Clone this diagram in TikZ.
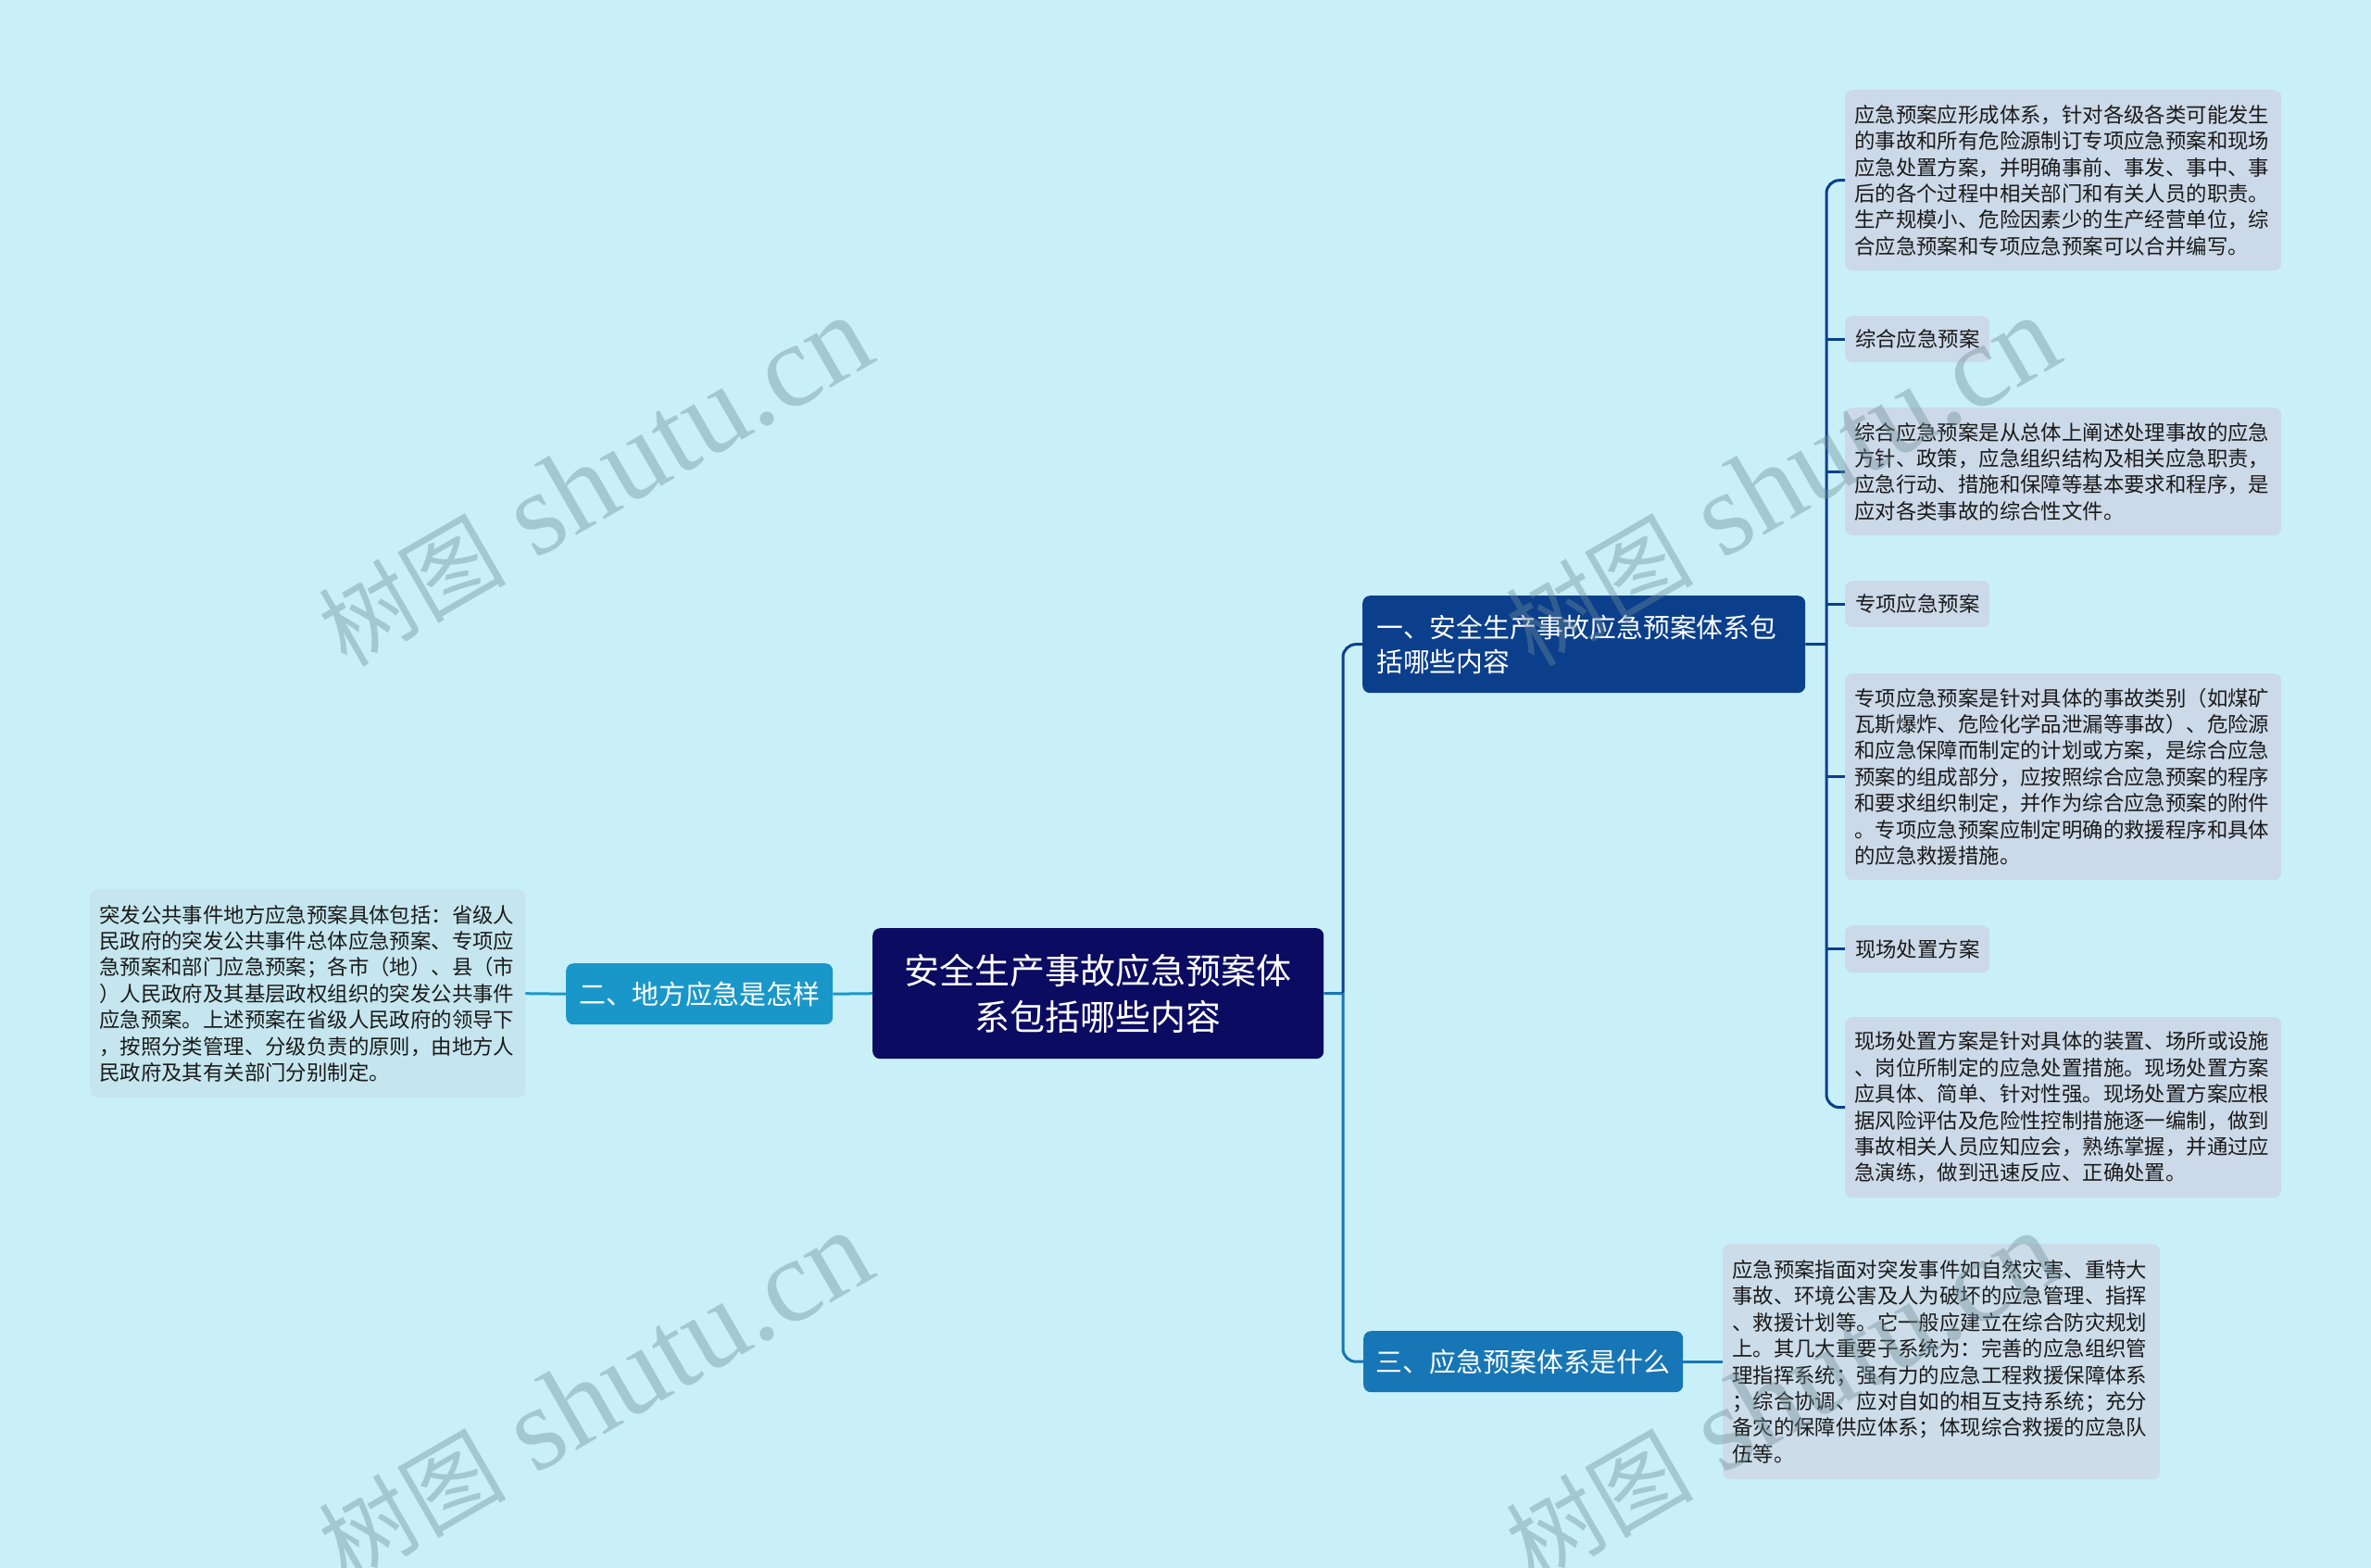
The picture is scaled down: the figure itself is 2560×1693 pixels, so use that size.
\documentclass[tikz,border=0pt]{standalone}
\usepackage{fontspec}
\setmainfont{Noto Sans CJK SC}
\newfontfamily\wmlatin{Liberation Serif}
\newfontfamily\wmcjk{Noto Sans CJK SC}
\definecolor{bgc}{HTML}{C9F0F8}
\definecolor{rootc}{HTML}{0B0B62}
\definecolor{bonec}{HTML}{0B3F8C}
\definecolor{btwoc}{HTML}{1A97C9}
\definecolor{bthreec}{HTML}{1776B5}
\definecolor{leafc}{HTML}{CCD9E8}
\definecolor{leaftwoc}{HTML}{C5E6EF}
\definecolor{leafthreec}{HTML}{CCDCE9}
\definecolor{txtc}{HTML}{1A1A1A}
\definecolor{wmc}{HTML}{6E8C96}
\newcommand{\wmtext}{{\wmcjk\fontsize{101}{101}\selectfont 树图}{\wmlatin\fontsize{128}{128}\selectfont{} shutu.cn}}
\tikzset{
  box/.style={draw=none, rounded corners=8pt, anchor=north west, inner ysep=0pt},
  leafbox/.style={box, fill=leafc, text=txtc, inner xsep=10pt, text width=451pt, minimum width=471pt, align=left,
    font=\fontsize{22.4}{28.4}\selectfont},
  shortleaf/.style={box, fill=leafc, text=txtc, inner xsep=10pt, minimum width=156pt, minimum height=50pt,
    font=\fontsize{22.4}{28.4}\selectfont},
  rootbox/.style={box, fill=rootc, text=white, inner xsep=23.5pt, text width=440pt, align=center,
    minimum width=487pt, minimum height=141pt, font=\fontsize{38}{50}\selectfont},
  branchbox/.style={box, text=white, minimum height=66pt, font=\fontsize{28.9}{37}\selectfont},
  conn/.style={line width=3pt},
  wm/.style={text=wmc, text opacity=0.4, rotate=30, inner sep=0pt},
}
\begin{document}
\begin{tikzpicture}[x=1pt,y=-1pt]
\useasboundingbox (0,0) rectangle (2560,1693);
\fill[bgc] (0,0) rectangle (2560,1693);

% root
\node[rootbox] (C) at (942,1002) {安全生产事故应急预案体\\系包括哪些内容};

% branches
\node[branchbox, fill=bonec, inner xsep=15pt, text width=448pt, align=left, minimum width=478pt, minimum height=105pt,
  font=\fontsize{28.8}{37}\selectfont] (B1) at (1471,643) {一、安全生产事故应急预案体系包\\括哪些内容};
\node[branchbox, fill=btwoc, minimum width=288pt] (B2) at (611,1040) {二、地方应急是怎样};
\node[branchbox, fill=bthreec, minimum width=345pt] (B3) at (1472,1437) {三、应急预案体系是什么};

% leaves of branch 1
\node[leafbox, minimum height=195pt] (L1) at (1992,97) {应急预案应形成体系，针对各级各类可能发生\\的事故和所有危险源制订专项应急预案和现场\\应急处置方案，并明确事前、事发、事中、事\\后的各个过程中相关部门和有关人员的职责。\\生产规模小、危险因素少的生产经营单位，综\\合应急预案和专项应急预案可以合并编写。};
\node[shortleaf] (L2) at (1992,341) {综合应急预案};
\node[leafbox, minimum height=138pt] (L3) at (1992,440) {综合应急预案是从总体上阐述处理事故的应急\\方针、政策，应急组织结构及相关应急职责，\\应急行动、措施和保障等基本要求和程序，是\\应对各类事故的综合性文件。};
\node[shortleaf] (L4) at (1992,627) {专项应急预案};
\node[leafbox, minimum height=223pt] (L5) at (1992,727) {专项应急预案是针对具体的事故类别（如煤矿\\瓦斯爆炸、危险化学品泄漏等事故）、危险源\\和应急保障而制定的计划或方案，是综合应急\\预案的组成部分，应按照综合应急预案的程序\\和要求组织制定，并作为综合应急预案的附件\\。专项应急预案应制定明确的救援程序和具体\\的应急救援措施。};
\node[shortleaf, minimum height=51pt] (L6) at (1992,999) {现场处置方案};
\node[leafbox, minimum height=195pt] (L7) at (1992,1098) {现场处置方案是针对具体的装置、场所或设施\\、岗位所制定的应急处置措施。现场处置方案\\应具体、简单、针对性强。现场处置方案应根\\据风险评估及危险性控制措施逐一编制，做到\\事故相关人员应知应会，熟练掌握，并通过应\\急演练，做到迅速反应、正确处置。};

% leaf of branch 2
\node[leafbox, fill=leaftwoc, minimum height=225pt, minimum width=470pt, text width=450pt] (M1) at (97,960) {突发公共事件地方应急预案具体包括：省级人\\民政府的突发公共事件总体应急预案、专项应\\急预案和部门应急预案；各市（地）、县（市\\）人民政府及其基层政权组织的突发公共事件\\应急预案。上述预案在省级人民政府的领导下\\，按照分类管理、分级负责的原则，由地方人\\民政府及其有关部门分别制定。};

% leaf of branch 3
\node[leafbox, fill=leafthreec, minimum height=254pt, minimum width=472pt, text width=452pt] (N1) at (1860,1343) {应急预案指面对突发事件如自然灾害、重特大\\事故、环境公害及人为破坏的应急管理、指挥\\、救援计划等。它一般应建立在综合防灾规划\\上。其几大重要子系统为：完善的应急组织管\\理指挥系统；强有力的应急工程救援保障体系\\；综合协调、应对自如的相互支持系统；充分\\备灾的保障供应体系；体现综合救援的应急队\\伍等。};

% connectors
\coordinate (J) at (1450,1072.5);
\coordinate (J1) at (1972,695.5);
\draw[conn, bthreec] (C.east) -- (J);
\draw[conn, bonec, rounded corners=14pt] (J) |- (B1.west);
\draw[conn, bthreec, rounded corners=14pt] (J) |- (B3.west);
\draw[conn, btwoc] (C.west) -- (B2.east);
\draw[conn, btwoc] (B2.west) -- (M1.east);
\draw[conn, bthreec] (B3.east) -- (N1.west);
\draw[conn, bonec] (B1.east) -- (J1);
\draw[conn, bonec, rounded corners=14pt] (L1.west) -- (L1.west -| J1) -- (L7.west -| J1) -- (L7.west);
\foreach \k in {L2,L3,L4,L5,L6} { \draw[conn, bonec] (\k.west -| J1) -- (\k.west); }

% watermarks
\node[wm] (W1) at (642,520) {\wmtext};
\node[wm] (W2) at (642,1508) {\wmtext};
\node[wm] (W3) at (1924,520) {\wmtext};
\node[wm] (W4) at (1924,1508) {\wmtext};
\end{tikzpicture}
\end{document}
